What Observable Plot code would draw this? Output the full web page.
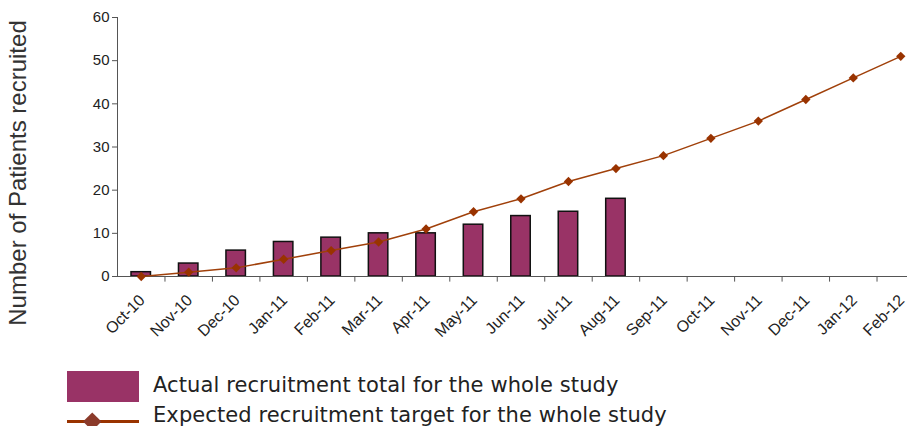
<!DOCTYPE html>
<html>
<head>
<meta charset="utf-8">
<script src="https://cdn.jsdelivr.net/npm/d3@7"></script>
<script src="https://cdn.jsdelivr.net/npm/@observablehq/plot@0.6"></script>
<style>
  body { margin: 0; background: #fff; width: 907px; height: 426px; overflow: hidden; position: relative; }
  #chart { position: absolute; left: 0; top: 0; }
  .legend { position: absolute; font-family: "DejaVu Sans", Verdana, sans-serif; font-size: 21px; letter-spacing: 0.1px; line-height: 24px; color: #222; white-space: nowrap; }
  .sw-bar { position: absolute; left: 67px; top: 371px; width: 72px; height: 31px; background: #993366; }
  .sw-line { position: absolute; left: 67px; top: 420px; width: 72px; height: 2.5px; background: #993300; }
  .sw-dia { position: absolute; left: 85.5px; top: 414.5px; width: 12.5px; height: 12.5px; background: #8b3a2a; transform: rotate(45deg); }
</style>
</head>
<body>
<div id="chart"></div>
<div class="sw-bar"></div>
<div class="legend" style="left:153px; top:373px;">Actual recruitment total for the whole study</div>
<div class="sw-line"></div>
<div class="sw-dia"></div>
<div class="legend" style="left:153px; top:403px;">Expected recruitment target for the whole study</div>
<script>
const months = ["Oct-10","Nov-10","Dec-10","Jan-11","Feb-11","Mar-11","Apr-11","May-11","Jun-11","Jul-11","Aug-11","Sep-11","Oct-11","Nov-11","Dec-11","Jan-12","Feb-12"];
const actual = [1,3,6,8,9,10,10,12,14,15,18];
const expected = [0,1,2,4,6,8,11,15,18,22,25,28,32,36,41,46,51];
const yTicks = [0,10,20,30,40,50,60];
const yTitle = "Number of Patients recruited";

const barData = actual.map((v,i) => ({month: months[i], value: v}));
const lineData = expected.map((v,i) => ({month: months[i], value: v}));
const bw = (924 - 117) / months.length;

const plot = Plot.plot({
  width: 907,
  height: 360,
  marginTop: 17,
  marginBottom: 84,
  marginLeft: 117,
  marginRight: 0,
  style: {fontFamily: "'Liberation Sans', Arial, sans-serif", background: "white", overflow: "visible"},
  x: {type: "band", domain: months, range: [117, 924], padding: 0, round: false, axis: null},
  y: {domain: [0, 60], range: [276, 17]},
  marks: [
    Plot.barY(barData, {x: "month", y: "value", fill: "#993366", stroke: "#111", strokeWidth: 1.5, insetLeft: 14, insetRight: 14}),
    Plot.ruleY([0], {stroke: "#555", strokeWidth: 1}),
    Plot.ruleX(months.slice(1), {x: d => d, dx: -bw / 2, y1: 0, y2: -1.3, stroke: "#555"}),
    Plot.frame({anchor: "left", stroke: "#555"}),
    Plot.axisY(yTicks, {tickSize: 5, tickPadding: 3, fontSize: 15, color: "#555", fill: "#222", label: null}),
    Plot.text(months, {x: d => d, y: 0, rotate: -45, textAnchor: "end", dx: 1, dy: 21, fontSize: 16, fill: "#222"}),
    Plot.lineY(lineData, {x: "month", y: "value", stroke: "#a0400a", strokeWidth: 1.5}),
    Plot.dot(lineData, {x: "month", y: "value", symbol: "diamond2", r: 4.2, fill: "#993300", stroke: "none"}),
    Plot.text([yTitle], {frameAnchor: "left", textAnchor: "middle", rotate: -90, dx: -99, dy: 26, fontSize: 24, fill: "#333"})
  ]
});
document.getElementById("chart").appendChild(plot);
</script>
</body>
</html>
